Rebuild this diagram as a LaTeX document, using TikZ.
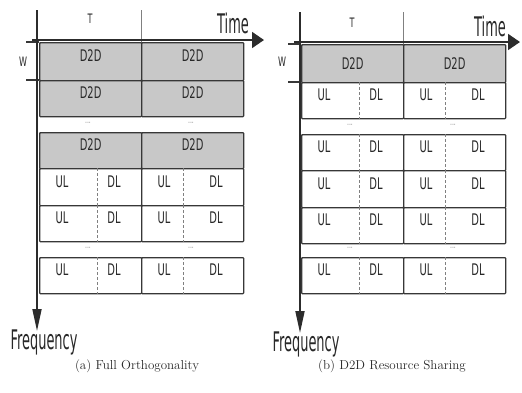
\documentclass[tikz,border=0pt]{standalone}
\usepackage{fontspec}
\usetikzlibrary{arrows.meta, positioning, calc}
\newfontfamily\cellfont{DejaVu Sans}[FakeStretch=0.62]
\newfontfamily\axisfont{DejaVu Sans}[FakeStretch=0.48]
\definecolor{colGrid}{RGB}{55, 55, 55}
\definecolor{colD2D}{RGB}{200, 200, 200}
\definecolor{colText}{RGB}{40, 40, 40}

\tikzset{
    cellbox/.style={draw=colGrid, line width=1.3pt, rounded corners=0.8pt,
        minimum width=102pt, inner sep=0pt, anchor=north west},
    d2dcell/.style={cellbox, fill=colD2D},
    ulcell/.style={cellbox, fill=white},
    celltext/.style={font=\cellfont\fontsize{16}{17}\selectfont, text=colText, inner sep=0pt},
    dimtext/.style={font=\cellfont\fontsize{13}{14}\selectfont, text=colText, inner sep=0pt},
    divider/.style={draw=gray, densely dashed, line width=0.5pt},
    dotsmark/.style={font=\cellfont\fontsize{10}{10}\selectfont, text=gray!80, inner sep=0pt},
    axis/.style={draw=colGrid!80!black, line width=1.8pt},
    tick/.style={draw=colGrid, line width=1.3pt},
    thintick/.style={draw=gray, line width=0.6pt},
    axislabel/.style={font=\axisfont\fontsize{27}{28}\selectfont, text=colText, inner sep=0pt},
    caption/.style={font=\fontsize{13}{14}\selectfont, text=colText, inner sep=0pt}
}

\begin{document}
\begin{tikzpicture}[x=1pt, y=-1pt]
    \useasboundingbox (0,0) rectangle (522,392);

    % --- (a) Full Orthogonality ---
    \begin{scope}
        % D2D rows
        \foreach \top/\ht [count=\r] in {42/38, 80/36, 132/36} {
            \foreach \h in {0, 1} {
                \node[d2dcell, minimum height=\ht pt] (a-d-\r-\h) at (39+102*\h, \top) {};
                \node[celltext] (a-dt-\r-\h) at (a-d-\r-\h.center) {D2D};
            }
        }
        % UL / DL rows
        \foreach \top/\ht [count=\r] in {168/37, 205/36, 257/36} {
            \foreach \h/\cut in {0/58, 1/42} {
                \node[ulcell, minimum height=\ht pt] (a-u-\r-\h) at (39+102*\h, \top) {};
                \draw[divider] ([xshift=\cut pt]a-u-\r-\h.north west) -- ([xshift=\cut pt]a-u-\r-\h.south west);
                \node[celltext] (a-ul-\r-\h) at ([xshift=23pt]a-u-\r-\h.west) {UL};
                \node[celltext] (a-dl-\r-\h) at ([xshift=75pt]a-u-\r-\h.west) {DL};
            }
        }
        % dots between groups
        \foreach \y [count=\k] in {123, 248} {
            \node[dotsmark] (a-dots-\k-0) at (88, \y) {...};
            \node[dotsmark] (a-dots-\k-1) at (191, \y) {...};
        }

        % W and T marks
        \coordinate (a-w-top) at (26, 42);
        \coordinate (a-w-bot) at (26, 80);
        \draw[tick] (a-w-top) -- (a-d-1-0.north west);
        \draw[tick] (a-w-bot) -- (a-d-2-0.north west);
        \node[dimtext] (a-w) at (23, 62) {W};
        \coordinate (a-t-mid) at (141, 10);
        \draw[thintick] (a-t-mid) -- (a-d-1-1.north west);
        \node[dimtext] (a-t) at (90, 19) {T};

        % axes
        \coordinate (a-f-start) at (37, 10);
        \coordinate (a-f-end) at (37, 331);
        \coordinate (a-t-start) at (32, 40);
        \coordinate (a-t-end) at (264, 40);
        \draw[axis, -{Triangle[length=22pt, width=9pt]}] (a-f-start) -- (a-f-end);
        \draw[axis, -{Triangle[length=12pt, width=16pt]}] (a-t-start) -- (a-t-end);
        \node[axislabel] (a-time) at (233, 23) {Time};
        \node[axislabel] (a-freq) at (44, 342) {Frequency};

        \node[caption] (a-cap) at (137, 366) {(a) Full Orthogonality};
    \end{scope}

    % --- (b) D2D Resource Sharing ---
    \begin{scope}[shift={(262, 2)}]
        % D2D row
        \foreach \h in {0, 1} {
            \node[d2dcell, minimum height=38pt] (b-d-1-\h) at (39+102*\h, 42) {};
            \node[celltext] (b-dt-1-\h) at (b-d-1-\h.center) {D2D};
        }
        % UL / DL rows
        \foreach \top/\ht [count=\r] in {80/36, 132/36, 168/37, 205/36, 255/36} {
            \foreach \h/\cut in {0/58, 1/42} {
                \node[ulcell, minimum height=\ht pt] (b-u-\r-\h) at (39+102*\h, \top) {};
                \draw[divider] ([xshift=\cut pt]b-u-\r-\h.north west) -- ([xshift=\cut pt]b-u-\r-\h.south west);
                \node[celltext] (b-ul-\r-\h) at ([xshift=23pt]b-u-\r-\h.west) {UL};
                \node[celltext] (b-dl-\r-\h) at ([xshift=75pt]b-u-\r-\h.west) {DL};
            }
        }
        % dots between groups
        \foreach \y [count=\k] in {123, 246} {
            \node[dotsmark] (b-dots-\k-0) at (88, \y) {...};
            \node[dotsmark] (b-dots-\k-1) at (191, \y) {...};
        }

        % W and T marks
        \coordinate (b-w-top) at (26, 42);
        \coordinate (b-w-bot) at (26, 80);
        \draw[tick] (b-w-top) -- (b-d-1-0.north west);
        \draw[tick] (b-w-bot) -- (b-u-1-0.north west);
        \node[dimtext] (b-w) at (20, 60) {W};
        \coordinate (b-t-mid) at (141, 10);
        \draw[thintick] (b-t-mid) -- (b-d-1-1.north west);
        \node[dimtext] (b-t) at (90, 21) {T};

        % axes
        \coordinate (b-f-start) at (38, 10);
        \coordinate (b-f-end) at (38, 331);
        \coordinate (b-t-start) at (32, 40);
        \coordinate (b-t-end) at (258, 40);
        \draw[axis, -{Triangle[length=22pt, width=9pt]}] (b-f-start) -- (b-f-end);
        \draw[axis, -{Triangle[length=12pt, width=16pt]}] (b-t-start) -- (b-t-end);
        \node[axislabel] (b-time) at (228, 24) {Time};
        \node[axislabel] (b-freq) at (44, 342) {Frequency};

        \node[caption] (b-cap) at (130, 364) {(b) D2D Resource Sharing};
    \end{scope}
\end{tikzpicture}
\end{document}
